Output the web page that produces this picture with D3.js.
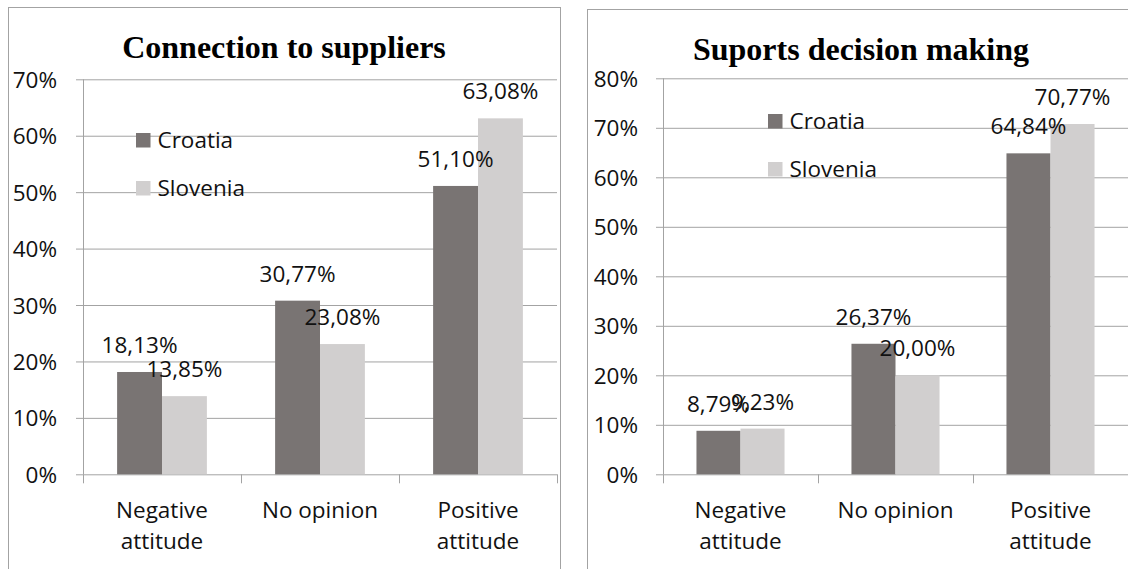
<!DOCTYPE html>
<html>
<head>
<meta charset="utf-8">
<script src="https://cdn.jsdelivr.net/npm/d3@7"></script>
<style>
  html, body { margin: 0; padding: 0; background: #fff; }
  svg { display: block; }
</style>
</head>
<body>
<svg id="chart" width="1128" height="569"></svg>
<script>
// categories (two-line labels) and series names
const categories = ["Negative attitude", "No opinion", "Positive attitude"];
const categoryLines = [["Negative", "attitude"], ["No opinion"], ["Positive", "attitude"]];
const seriesNames = ["Croatia", "Slovenia"];
const seriesColors = ["#797473", "#d1cfcf"];

// values in percent
const suppliersCroatia = [18.13, 30.77, 51.10];
const suppliersSlovenia = [13.85, 23.08, 63.08];
const decisionCroatia = [8.79, 26.37, 64.84];
const decisionSlovenia = [9.23, 20.00, 70.77];

// y tick values
const suppliersTicks = [0, 10, 20, 30, 40, 50, 60, 70];
const decisionTicks = [0, 10, 20, 30, 40, 50, 60, 70, 80];

const svg = d3.select("#chart");
const gridColor = "#a3a3a3";
const labelFont = "'Open Sans', 'Noto Sans', sans-serif";
const fmt = d3.format(".2f");

function drawChart(opts) {
  // outer frame
  svg.append("rect")
    .attr("x", opts.box.x + 0.5)
    .attr("y", opts.box.y + 0.5)
    .attr("width", opts.box.w)
    .attr("height", 700)
    .attr("fill", "none")
    .attr("stroke", gridColor);

  const g = svg.append("g").attr("transform", `translate(${opts.left},0)`);
  const plotW = opts.right - opts.left;

  const y = d3.scaleLinear().domain([0, d3.max(opts.ticks)]).range([opts.bottom, opts.top]);
  const x0 = d3.scaleBand().domain(categories).range([0, plotW]).padding(0);
  const x1 = d3.scaleBand().domain(seriesNames).range([0, x0.bandwidth()])
    .paddingInner(0).paddingOuter(0.76);

  // gridlines + y labels
  const yAxis = g.append("g")
    .call(d3.axisLeft(y).tickValues(opts.ticks).tickSize(-plotW).tickSizeOuter(0)
      .tickPadding(opts.tickPad).tickFormat(d => d + "%"));
  yAxis.select(".domain").remove();
  yAxis.selectAll(".tick line").attr("x1", -7).attr("stroke", gridColor);
  yAxis.selectAll(".tick text")
    .attr("font-family", labelFont).attr("font-size", 22.5).attr("fill", "#111")
    .attr("dy", "0.36em");

  // vertical axis line
  g.append("line")
    .attr("x1", 0.5).attr("x2", 0.5)
    .attr("y1", y(d3.max(opts.ticks))).attr("y2", y(0))
    .attr("stroke", gridColor);

  // category boundary ticks
  g.selectAll("line.cat-tick")
    .data(d3.range(categories.length + 1))
    .enter().append("line")
    .attr("class", "cat-tick")
    .attr("x1", i => Math.round(i * x0.step()) + 0.5)
    .attr("x2", i => Math.round(i * x0.step()) + 0.5)
    .attr("y1", y(0)).attr("y2", y(0) + 9)
    .attr("stroke", gridColor);

  // bars
  const rows = categories.map((c, i) => ({
    cat: c,
    vals: seriesNames.map((s, j) => ({ s, j, v: opts.values[j][i] }))
  }));
  const groups = g.selectAll("g.cat").data(rows).enter().append("g")
    .attr("transform", d => `translate(${x0(d.cat)},0)`);
  groups.selectAll("rect").data(d => d.vals).enter().append("rect")
    .attr("x", d => x1(d.s))
    .attr("y", d => y(d.v))
    .attr("width", x1.bandwidth())
    .attr("height", d => y(0) - y(d.v))
    .attr("fill", d => seriesColors[d.j]);

  // value labels
  groups.selectAll("text.val").data(d => d.vals).enter().append("text")
    .attr("class", "val")
    .attr("x", d => x1(d.s) + x1.bandwidth() / 2)
    .attr("y", d => y(d.v) - 19)
    .attr("text-anchor", "middle")
    .attr("font-family", labelFont).attr("font-size", 22.5).attr("fill", "#111")
    .text(d => fmt(d.v).replace(".", ",") + "%");

  // category labels
  const catText = g.selectAll("text.cat").data(categories).enter().append("text")
    .attr("class", "cat")
    .attr("x", d => x0(d) + x0.bandwidth() / 2)
    .attr("y", y(0) + 43.5)
    .attr("text-anchor", "middle")
    .attr("font-family", labelFont).attr("font-size", 22.5).attr("fill", "#111");
  catText.each(function (d, i) {
    d3.select(this).selectAll("tspan").data(categoryLines[i]).enter().append("tspan")
      .attr("x", x0(d) + x0.bandwidth() / 2)
      .attr("dy", (t, k) => k === 0 ? 0 : 31.5)
      .text(t => t);
  });

  // legend
  const leg = svg.append("g").selectAll("g").data(seriesNames).enter().append("g")
    .attr("transform", (d, i) => `translate(${opts.legend.x},${opts.legend.y + i * 48})`);
  leg.append("rect").attr("width", 14.5).attr("height", 14.5)
    .attr("fill", (d, i) => seriesColors[i]);
  leg.append("text")
    .attr("x", 21.5).attr("y", 15)
    .attr("font-family", labelFont).attr("font-size", 22.5).attr("fill", "#111")
    .text(d => d);

  // title
  svg.append("text")
    .attr("x", opts.titleX).attr("y", opts.titleY)
    .attr("text-anchor", "middle")
    .attr("font-family", "'Liberation Serif', 'Times New Roman', serif")
    .attr("font-weight", "bold").attr("font-size", 32).attr("fill", "#000")
    .text(opts.title);
}

drawChart({
  title: "Connection to suppliers",
  box: { x: 8, y: 7, w: 552 },
  left: 83, right: 557, top: 79.3, bottom: 474.3,
  ticks: suppliersTicks,
  values: [suppliersCroatia, suppliersSlovenia],
  tickPad: 26,
  legend: { x: 136, y: 133 },
  titleX: 284, titleY: 58
});

drawChart({
  title: "Suports decision making",
  box: { x: 587, y: 9, w: 560 },
  left: 663, right: 1128, top: 78.3, bottom: 474.3,
  ticks: decisionTicks,
  values: [decisionCroatia, decisionSlovenia],
  tickPad: 25,
  legend: { x: 768, y: 114 },
  titleX: 861, titleY: 60
});
</script>
</body>
</html>
